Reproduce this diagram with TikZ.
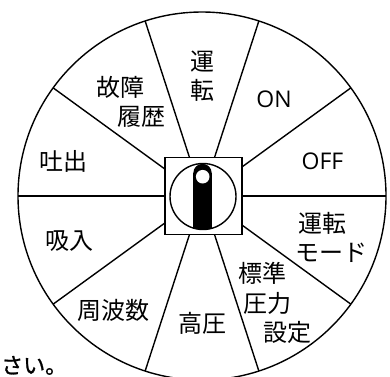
\documentclass[tikz,border=0pt]{standalone}
\usepackage{fontspec}
\setmainfont{Noto Sans CJK JP}
\newfontfamily\latinfont{Open Sans}
\newfontfamily\notefont[FakeBold=1.2]{Noto Sans CJK JP}
\begin{document}
\begin{tikzpicture}[x=1pt,y=-1pt,
  lbl/.style={inner sep=0pt,anchor=base,font=\fontsize{24}{24}\selectfont},
  lat/.style={inner sep=0pt,anchor=base,font=\latinfont\fontsize{23}{23}\selectfont},
  ln/.style={line width=1.4pt,draw=black}]
\useasboundingbox (0,0) rectangle (390,376);
\clip (0,0) rectangle (390,376);
\coordinate (c) at (202,196);
% outer dial
\draw[ln] (c) circle[radius=184];
\foreach \a in {0,36,...,324}{
  \draw[ln] (c) -- ++(\a:184);
}
% centre square with knob
\node[ln,fill=white,minimum size=77pt,inner sep=0pt,line width=1.5pt] (sq) at (203.5,196) {};
\coordinate (kc) at (203,196.5);
\begin{scope}
  \clip (kc) circle[radius=33];
  \fill[black] (202.5,173) circle[radius=9.2];
  \fill[black] (193.3,173) rectangle (211.7,240);
\end{scope}
\fill[white] (202.7,176.7) circle[radius=6.8];
\draw[ln] (kc) circle[radius=33];
% labels
\node[lbl] (t1a) at (202,70) {運};
\node[lbl] (t1b) at (202,99) {転};
\node[lat] (t2) at (274,107) {ON};
\node[lat] (t3) at (322.5,169) {OFF};
\node[lbl] (t4a) at (322,232) {運転};
\node[lbl] (t4b) at (331.5,261) {モード};
\node[lbl] (t5a) at (262.5,282) {標準};
\node[lbl] (t5b) at (267.5,312) {圧力};
\node[lbl] (t5c) at (287.5,341) {設定};
\node[lbl] (t6) at (202.5,332) {高圧};
\node[lbl] (t7) at (113.3,319) {周波数};
\node[lbl] (t8) at (69,249) {吸入};
\node[lbl] (t9) at (63.7,170) {吐出};
\node[lbl] (t10a) at (120,96) {故障};
\node[lbl] (t10b) at (141,125) {履歴};
\node[inner sep=0pt,anchor=base west,font=\notefont\fontsize{22}{22}\selectfont] (note) at (1,373.5) {さい。};
\end{tikzpicture}
\end{document}
